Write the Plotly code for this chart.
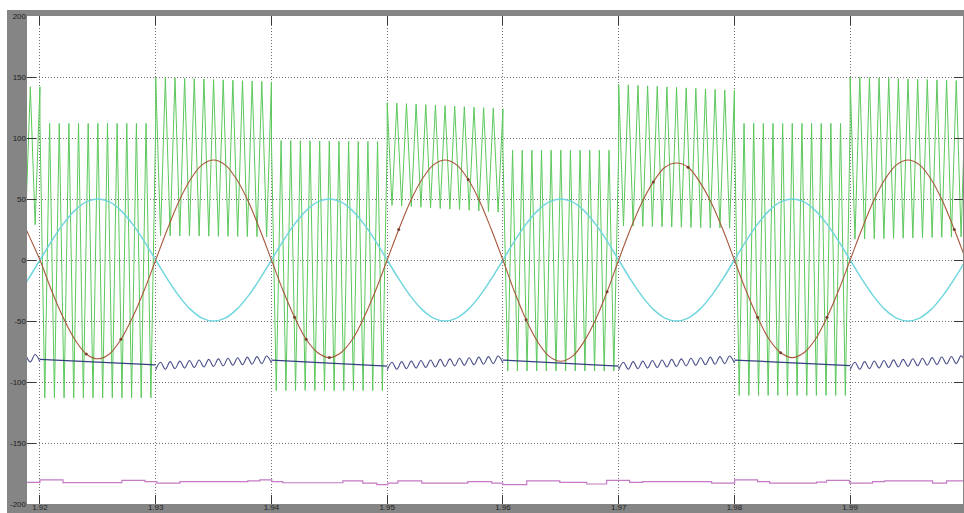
import math
import plotly.graph_objects as go

# ---------------- axes ----------------
x_start, x_end = 1.91888, 1.99975
x_tick_vals = [1.92, 1.93, 1.94, 1.95, 1.96, 1.97, 1.98, 1.99]
x_tick_text = ["1.92", "1.93", "1.94", "1.95", "1.96", "1.97", "1.98", "1.99"]
y_tick_vals = [-200, -150, -100, -50, 0, 50, 100, 150, 200]
y_tick_text = ["-200", "-150", "-100", "-50", "0", "50", "100", "150", "200"]

# ---------------- 50 Hz signals, sampled every 1 ms from 1.918 s ----------------
t_ms_start = 1.918
cyan_vals = [
    -29.4, -15.5,
    0, 15.5, 29.4, 40.5, 47.6, 50, 47.6, 40.5, 29.4, 15.5,
    0, -15.5, -29.4, -40.5, -47.6, -50, -47.6, -40.5, -29.4, -15.5,
    0, 15.5, 29.4, 40.5, 47.6, 50, 47.6, 40.5, 29.4, 15.5,
    0, -15.5, -29.4, -40.5, -47.6, -50, -47.6, -40.5, -29.4, -15.5,
    0, 15.5, 29.4, 40.5, 47.6, 50, 47.6, 40.5, 29.4, 15.5,
    0, -15.5, -29.4, -40.5, -47.6, -50, -47.6, -40.5, -29.4, -15.5,
    0, 15.5, 29.4, 40.5, 47.6, 50, 47.6, 40.5, 29.4, 15.5,
    0, -15.5, -29.4, -40.5, -47.6, -50, -47.6, -40.5, -29.4, -15.5,
    0,
]
red_vals = [
    42, 21,
    0, -25, -47, -65, -77, -81, -77, -65, -47, -25,
    0, 25, 48, 66, 78, 82, 78, 66, 48, 25,
    0, -25, -47, -65, -76, -80, -76, -65, -47, -25,
    0, 25, 48, 66, 78, 82, 78, 66, 48, 25,
    0, -26, -49, -67, -79, -83, -79, -67, -49, -26,
    0, 25, 47, 64, 76, 79.5, 76, 64, 47, 25,
    0, -25, -47, -65, -76, -80, -76, -65, -47, -25,
    0, 25, 48, 66, 78, 82, 78, 66, 48, 25,
    0,
]
t_ms = [round(t_ms_start + 0.001 * i, 3) for i in range(len(cyan_vals))]

# samples of the red trace that show a small dot in the picture (indices into t_ms)
red_dot_idx = [6, 9, 24, 25, 27, 33, 39, 44, 51, 55, 58, 64, 66, 70, 81]

# ---------------- switching signal (green): segment envelopes ----------------
seg_bounds = [x_start, 1.92, 1.93, 1.94, 1.95, 1.96, 1.97, 1.98, 1.99, x_end]
green_upper_start = [142, 112, 150, 98, 129, 90, 144, 112, 150]
green_upper_end   = [142, 112, 146, 97, 124, 90, 139, 112, 147]
green_lower_start = [29, -113, 20, -107, 45, -91, 28, -111, 17]
green_lower_end   = [29, -113, 19, -107, 39, -91, 26, -111, 19]
carrier_hz = 1200

# ---------------- dark blue signal ----------------
navy_kind        = ["ripple", "line", "ripple", "line", "ripple", "line", "ripple", "line", "ripple"]
navy_level_start = [-80.5, -81.5, -87, -82, -87, -82, -87, -82, -87]
navy_level_end   = [-80.5, -86, -81.5, -87, -81.5, -87, -81.5, -86.5, -81.5]
navy_ripple_amp = 3

# ---------------- magenta signal (stepped) ----------------
mag_t = [1.91888, 1.92, 1.92199, 1.92708, 1.92907, 1.93010, 1.93209, 1.93796, 1.93900,
         1.94003, 1.94098, 1.94617, 1.94789, 1.94910, 1.95005, 1.95092, 1.95299, 1.95696,
         1.95903, 1.95998, 1.96206, 1.96491, 1.96724, 1.96896, 1.97095, 1.97207, 1.97803,
         1.98002, 1.98200, 1.98304, 1.98710, 1.98796, 1.98995, 1.99193, 1.99297, 1.99712,
         1.99833, 1.99975]
mag_v = [-182.2, -180.3, -182.5, -180.6, -181.6, -182.9, -181.6, -181.1, -180.3,
         -181.6, -182.6, -181.1, -182.9, -184.2, -182.9, -181.1, -182.9, -181.6,
         -182.9, -184.2, -181.1, -182.2, -183.6, -180.6, -182.2, -181.6, -182.9,
         -180.3, -181.6, -182.9, -182.0, -180.6, -182.9, -181.6, -181.1, -182.9,
         -181.1, -181.1]

# ---------------- build wave vertices from the envelopes ----------------
half = 1.0 / (2 * carrier_hz)
t0 = 1.92
n_seg = len(seg_bounds) - 1


def seg_k_range(i):
    s, e = seg_bounds[i], seg_bounds[i + 1]
    ks = math.floor((s - t0) / half + 1e-6) if i == 0 else round((s - t0) / half)
    ke = math.ceil((e - t0) / half - 1e-6) if i == n_seg - 1 else round((e - t0) / half)
    return s, e, ks, ke


green_t, green_v = [], []
for i in range(n_seg):
    s, e, ks, ke = seg_k_range(i)
    for k in range(ks, ke + 1):
        t = t0 + k * half
        f = min(max((t - s) / (e - s), 0.0), 1.0)
        if k % 2 == 0:
            v = green_upper_start[i] + (green_upper_end[i] - green_upper_start[i]) * f
        else:
            v = green_lower_start[i] + (green_lower_end[i] - green_lower_start[i]) * f
        green_t.append(t)
        green_v.append(v)

# straight parts and ripple parts of the blue signal (same colour, drawn separately)
navy_line_t, navy_line_v = [], []
navy_rip_t, navy_rip_v = [], []
for i in range(n_seg):
    s, e, ks, ke = seg_k_range(i)
    if navy_kind[i] == "line":
        navy_line_t += [s, e, None]
        navy_line_v += [navy_level_start[i], navy_level_end[i], None]
    else:
        for k in range(ks, ke + 1):
            t = t0 + k * half
            f = min(max((t - s) / (e - s), 0.0), 1.0)
            c = navy_level_start[i] + (navy_level_end[i] - navy_level_start[i]) * f
            navy_rip_t.append(t)
            navy_rip_v.append(c + (navy_ripple_amp if k % 2 else -navy_ripple_amp))
        navy_rip_t.append(None)
        navy_rip_v.append(None)

# ---------------- figure ----------------
fig = go.Figure()
fig.add_trace(go.Scatter(x=green_t, y=green_v, mode="lines",
                         line=dict(color="#5cc85c", width=1), hoverinfo="skip"))
fig.add_trace(go.Scatter(x=t_ms, y=cyan_vals, mode="lines",
                         line=dict(color="#72d6de", width=1.5, shape="spline"), hoverinfo="skip"))
fig.add_trace(go.Scatter(x=navy_line_t, y=navy_line_v, mode="lines",
                         line=dict(color="#34407e", width=1.2), hoverinfo="skip"))
fig.add_trace(go.Scatter(x=navy_rip_t, y=navy_rip_v, mode="lines",
                         line=dict(color="#4a4f8a", width=1.1, shape="spline", smoothing=1),
                         hoverinfo="skip"))
fig.add_trace(go.Scatter(x=t_ms, y=red_vals, mode="lines",
                         line=dict(color="#a8583a", width=1.1, shape="spline"), hoverinfo="skip"))
fig.add_trace(go.Scatter(x=[t_ms[i] for i in red_dot_idx], y=[red_vals[i] for i in red_dot_idx],
                         mode="markers", marker=dict(color="#7a4030", size=3), hoverinfo="skip"))
fig.add_trace(go.Scatter(x=mag_t, y=mag_v, mode="lines",
                         line=dict(color="#c47ac4", width=1.2, shape="hv"), hoverinfo="skip"))

tick_font = dict(family="Liberation Sans, Arial, sans-serif", size=8, color="#1e1e1e")
common = dict(ticks="inside", ticklen=9, tickwidth=1, tickcolor="#3a3a3a", mirror="ticks",
              showgrid=True, gridcolor="#707070", gridwidth=1, griddash="1px,2px",
              zeroline=False, showline=False, tickfont=tick_font, automargin=False)
fig.update_xaxes(range=[x_start, x_end], tickmode="array", tickvals=x_tick_vals,
                 ticktext=x_tick_text, ticklabelstandoff=-3, **common)
fig.update_yaxes(range=[-200, 200], tickmode="array", tickvals=y_tick_vals,
                 ticktext=y_tick_text, **common)

W, H = 964, 513
ml, mr, mt, mb = 27, 1, 16, 9
pw, ph = W - ml - mr, H - mt - mb
fig.update_layout(
    width=W, height=H, autosize=False,
    margin=dict(l=ml, r=mr, t=mt, b=mb, pad=0),
    paper_bgcolor="#858585", plot_bgcolor="white", showlegend=False,
    shapes=[
        # white page strip above the grey frame
        dict(type="rect", xref="paper", yref="paper", x0=-0.05, x1=1.05,
             y0=1 + (mt - 10) / ph, y1=1 + (mt + 2) / ph,
             fillcolor="white", line=dict(width=0), layer="above"),
        # white page strip left of the grey frame
        dict(type="rect", xref="paper", yref="paper", x0=-(ml + 2) / pw, x1=-(ml - 7) / pw,
             y0=-0.05, y1=1.05, fillcolor="white", line=dict(width=0), layer="above"),
    ],
)

fig.write_html("out.html", config={"displayModeBar": False})
